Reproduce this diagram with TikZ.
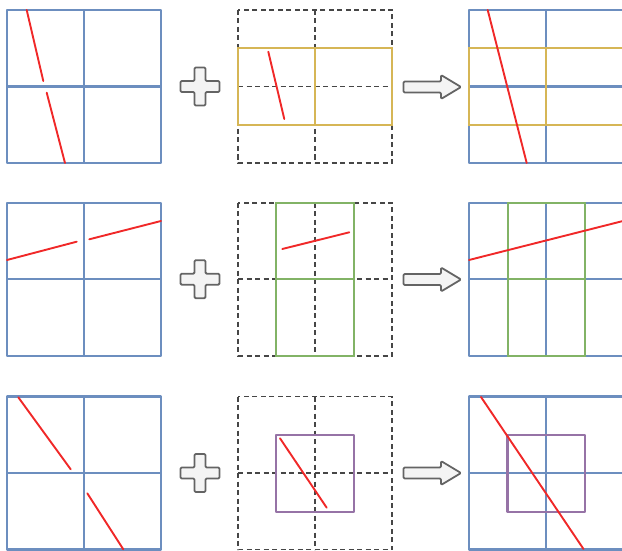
\documentclass[tikz,border=0pt]{standalone}
\definecolor{gblue}{RGB}{108,142,191}
\definecolor{gyel}{RGB}{214,182,86}
\definecolor{ggreen}{RGB}{130,179,102}
\definecolor{gpurp}{RGB}{150,115,166}
\definecolor{gred}{RGB}{240,40,40}
\definecolor{dgray}{RGB}{70,70,70}
\definecolor{ggray}{RGB}{100,100,100}
\definecolor{lfill}{RGB}{244,244,244}
\newcommand{\BGrid}[2]{%
  \draw[bluegrid] (#1,#2) rectangle ++(154,153);
  \draw[bluegrid] (#1+77,#2) -- ++(0,153) (#1,#2+76.5) -- ++(154,0);}
\newcommand{\DGrid}[2]{%
  \draw[dashgrid] (#1,#2) rectangle ++(154,153);
  \draw[dashgrid] (#1+77,#2) -- ++(0,153) (#1,#2+76.5) -- ++(154,0);}
\newcommand{\PlusSym}[2]{%
  \draw[opsym] (#1-5.5,#2-19) -- (#1+5.5,#2-19) -- (#1+5.5,#2-5.5) -- (#1+19.5,#2-5.5)
    -- (#1+19.5,#2+5.5) -- (#1+5.5,#2+5.5) -- (#1+5.5,#2+19) -- (#1-5.5,#2+19)
    -- (#1-5.5,#2+5.5) -- (#1-19.5,#2+5.5) -- (#1-19.5,#2-5.5) -- (#1-5.5,#2-5.5) -- cycle;}
\newcommand{\ArrSym}[1]{%
  \draw[opsym] (403.5,#1-5.5) -- (441,#1-5.5) -- (441,#1-12) -- (461,#1)
    -- (441,#1+12) -- (441,#1+5.5) -- (403.5,#1+5.5) -- cycle;}
\begin{document}
\begin{tikzpicture}[x=1pt,y=-1pt,
  bluegrid/.style={draw=gblue,line width=2.3pt,line join=round},
  dashgrid/.style={draw=dgray,line width=1.7pt,dash pattern=on 5pt off 3.5pt},
  yel/.style={draw=gyel,line width=2.1pt},
  grn/.style={draw=ggreen,line width=2.1pt},
  pur/.style={draw=gpurp,line width=2.1pt,line join=round},
  redline/.style={draw=gred,line width=1.9pt,line cap=round},
  opsym/.style={draw=ggray,line width=1.8pt,fill=lfill,rounded corners=1.2pt,line join=round}]
\useasboundingbox (0,0) rectangle (622,551);
\clip (0,0) rectangle (622,551);
% ---------- row 1 ----------
\BGrid{7}{10}
\draw[redline] (26.7,10) -- (43.3,81);
\draw[redline] (46.7,92.7) -- (65,163);
\PlusSym{200}{86.5}
\DGrid{238}{10}
\draw[yel] (238,48.25) rectangle (392,124.75);
\draw[yel] (315,48.25) -- (315,124.75);
\draw[redline] (268.3,51.7) -- (284.3,119);
\ArrSym{87}
\BGrid{469}{10}
\draw[yel] (469,48.25) rectangle (623,124.75);
\draw[yel] (546,48.25) -- (546,124.75);
\draw[redline] (487.7,10) -- (526.7,163);
% ---------- row 2 ----------
\BGrid{7}{202.7}
\draw[redline] (7,260) -- (76.7,241.7);
\draw[redline] (89.3,239.3) -- (161,221);
\PlusSym{200}{279.2}
\DGrid{238}{202.7}
\draw[grn] (276,202.7) rectangle (354,355.7);
\draw[grn] (276,279.2) -- (354,279.2);
\draw[redline] (282.3,249) -- (349.3,232.3);
\ArrSym{279.5}
\BGrid{469}{202.7}
\draw[grn] (508,202.7) rectangle (585,355.7);
\draw[grn] (508,279.2) -- (585,279.2);
\draw[redline] (469,260) -- (623,221);
% ---------- row 3 ----------
\BGrid{7}{396.5}
\draw[redline] (18.3,397.3) -- (70.7,469.3);
\draw[redline] (87.3,493.3) -- (123.3,549.3);
\PlusSym{200}{473}
\DGrid{238}{396.5}
\draw[pur] (276,434.9) rectangle (354,511.6);
\draw[redline] (280,438.3) -- (326.7,507.7);
\ArrSym{473}
\BGrid{469}{396.5}
\draw[pur] (507.5,434.9) rectangle (585,511.6);
\draw[redline] (481,397) -- (583.5,549);
\end{tikzpicture}
\end{document}
